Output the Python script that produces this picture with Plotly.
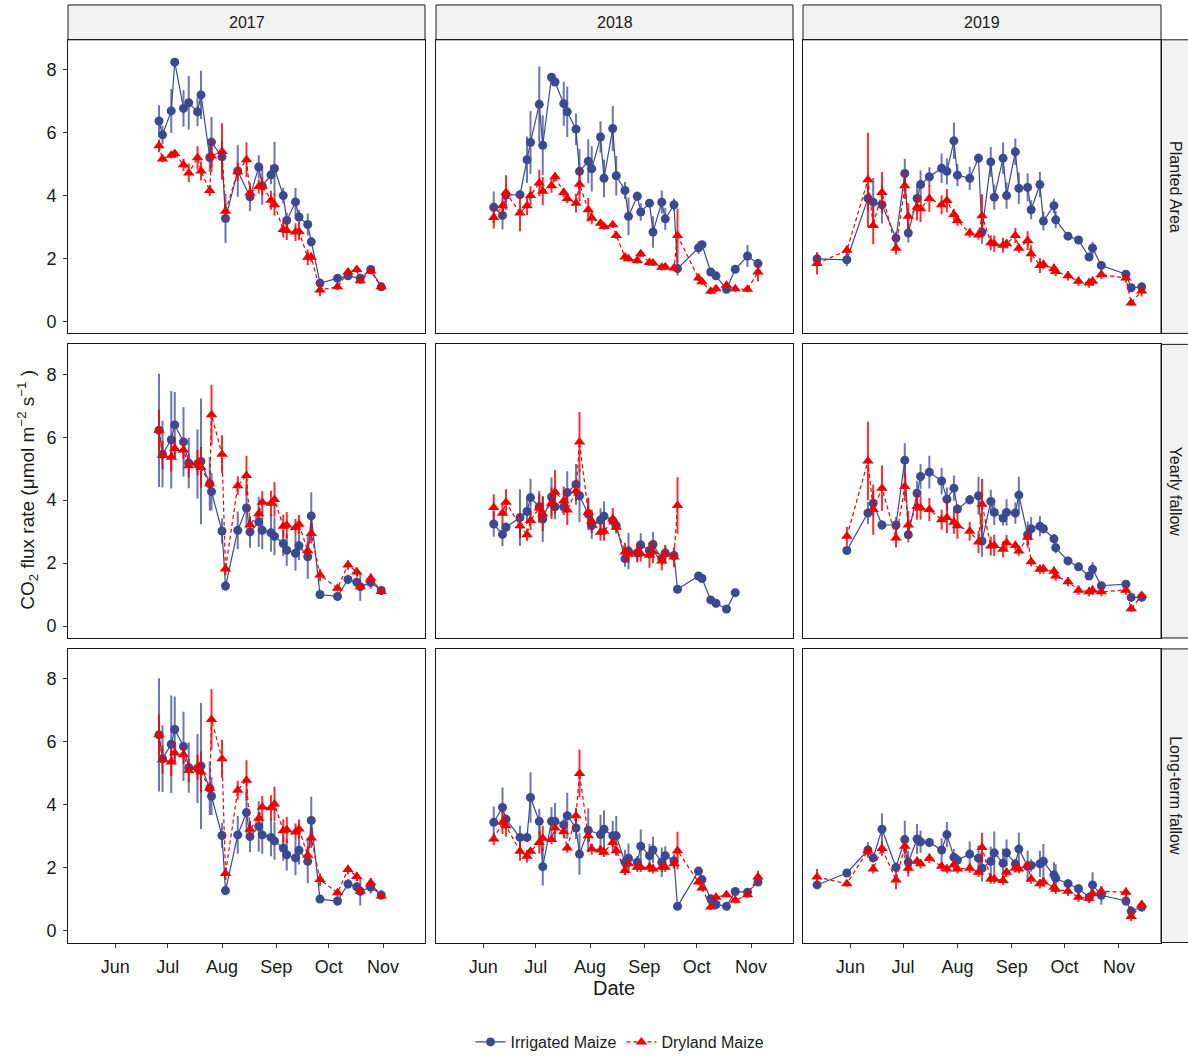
import plotly.graph_objects as go

# ---------------------------------------------------------------------------
# Facet layout: columns are years, rows are land-use types
# ---------------------------------------------------------------------------
YEARS = [2017, 2018, 2019]
LANDUSE = ["Planted Area", "Yearly fallow", "Long-term fallow"]
MONTH_LABELS = ["Jun", "Jul", "Aug", "Sep", "Oct", "Nov"]
MONTH_DAYS = ["06-01", "07-01", "08-01", "09-01", "10-01", "11-01"]
Y_TICKS = [0, 2, 4, 6, 8]
SERIES = ["Irrigated Maize", "Dryland Maize"]

# Measurement dates (month-day) for each season
dates_2017 = ["06-26", "06-28", "07-03", "07-05", "07-10", "07-13", "07-18", "07-20",
              "07-25", "07-26", "08-01", "08-03", "08-10", "08-15", "08-17", "08-22",
              "08-24", "08-29", "08-31", "09-05", "09-07", "09-12", "09-14", "09-19",
              "09-21", "09-26", "10-06", "10-12", "10-17", "10-19", "10-25", "10-31"]
dates_2018 = ["06-07", "06-12", "06-14", "06-22", "06-26", "06-28", "07-03", "07-05",
              "07-10", "07-12", "07-17", "07-19", "07-24", "07-26", "07-31", "08-02",
              "08-07", "08-09", "08-14", "08-16", "08-21", "08-23", "08-28", "08-30",
              "09-04", "09-06", "09-11", "09-13", "09-18", "09-20", "10-02", "10-04",
              "10-09", "10-12", "10-18", "10-23", "10-30", "11-05"]
dates_2019 = ["05-13", "05-30", "06-11", "06-14", "06-19", "06-27", "07-02", "07-04",
              "07-09", "07-11", "07-16", "07-23", "07-26", "07-30", "08-01", "08-08",
              "08-13", "08-15", "08-20", "08-22", "08-27", "08-29", "09-03", "09-05",
              "09-10", "09-12", "09-17", "09-19", "09-25", "09-26", "10-03", "10-09",
              "10-15", "10-17", "10-22", "11-05", "11-08", "11-14"]

# ---------------------------- 2017 -----------------------------------------
pa_irr_2017 = [6.37, 5.93, 6.69, 8.24, 6.77, 6.95, 6.66, 7.20, 5.21, 5.70, 5.23, 3.27,
               4.78, None, 3.96, 4.91, 4.31, 4.66, 4.86, 4.00, 3.21, 3.80, 3.32, 3.08,
               2.53, 1.22, 1.37, 1.45, None, 1.37, 1.65, 1.10]
pa_irr_se_2017 = [0.5, 0.3, 0.7, 0.1, 0.58, 0.85, 0.45, 0.77, 0.45, 0.8, 0.5, 0.78,
                  0.82, None, 0.45, 0.37, 0.6, 0.3, 0.85, 0.25, 0.25, 0.44, 0.23, 0.35,
                  0.15, 0.1, 0.1, 0.1, None, 0.1, 0.1, 0.1]
pa_dry_2017 = [5.58, 5.16, 5.28, 5.34, 4.98, 4.72, 5.20, 4.78, 4.16, 5.26, 5.40, 3.50,
               4.76, 5.14, 4.08, 4.29, 4.30, 3.85, 3.71, 2.92, 2.89, 2.84, 2.86, 2.04,
               2.04, 1.00, 1.10, 1.57, 1.65, 1.29, 1.60, 1.10]
pa_dry_se_2017 = [0.2, 0.1, 0.1, 0.1, 0.2, 0.3, 0.37, 0.3, 0.18, 0.5, 0.9, 0.25,
                  0.3, 0.55, 0.25, 0.22, 0.28, 0.3, 0.35, 0.25, 0.3, 0.28, 0.28, 0.25,
                  0.15, 0.2, 0.1, 0.1, 0.1, 0.1, 0.1, 0.1]

yf_irr_2017 = [6.22, 5.46, 5.92, 6.39, 5.85, 5.18, 5.15, 5.23, 4.52, 4.27, 3.02, 1.27,
               3.04, 3.75, 2.99, 3.31, 3.04, 2.96, 2.85, 2.62, 2.41, 2.31, 2.55, 2.20,
               3.50, 1.00, 0.94, 1.48, 1.39, 1.25, 1.38, 1.13]
yf_irr_se_2017 = [1.8, 1.06, 1.55, 1.05, 1.1, 0.8, 1.1, 2.0, 0.85, 0.6, 0.4, 0.15,
                  0.6, 0.65, 0.5, 0.8, 0.6, 0.6, 0.6, 0.4, 0.5, 0.55, 0.45, 0.7,
                  0.75, 0.1, 0.15, 0.15, 0.15, 0.45, 0.2, 0.15]
yf_dry_2017 = [6.22, 5.43, 5.36, 5.64, 5.59, 5.09, 5.19, 5.04, 4.52, 6.71, 5.46, 1.81,
               4.46, 4.78, 3.22, 3.57, 3.93, 3.90, 4.02, 3.17, 3.20, 3.13, 3.23, 2.39,
               2.94, 1.62, 1.20, 1.94, 1.72, 1.25, 1.52, 1.10]
yf_dry_se_2017 = [0.65, 0.45, 0.45, 0.35, 0.3, 0.37, 0.4, 0.65, 0.2, 0.96, 0.6, 0.2,
                  0.3, 0.63, 0.25, 0.2, 0.35, 0.4, 0.55, 0.37, 0.42, 0.27, 0.3, 0.27,
                  0.32, 0.2, 0.1, 0.15, 0.15, 0.1, 0.15, 0.1]

# In 2017 both fallow types share the same record
lt_irr_2017 = yf_irr_2017
lt_irr_se_2017 = yf_irr_se_2017
lt_dry_2017 = yf_dry_2017
lt_dry_se_2017 = yf_dry_se_2017

# ---------------------------- 2018 -----------------------------------------
pa_irr_2018 = [3.63, 3.37, 4.02, 4.03, 5.14, 5.69, 6.90, 5.60, 7.76, 7.61, 6.92, 6.66,
               6.11, 4.77, 5.09, 4.85, 5.86, 4.55, 6.13, 4.63, 4.16, 3.34, 3.98, 3.48,
               3.76, 2.84, 3.79, 3.26, 3.71, 1.68, 2.34, 2.44, 1.57, 1.45, 1.02, 1.66,
               2.08, 1.84]
pa_irr_se_2018 = [0.5, 0.45, 0.15, 0.15, 0.74, 1.0, 1.2, 0.95, 0.1, 0.1, 0.7, 0.8,
                  0.5, 0.72, 0.7, 0.72, 0.5, 0.6, 0.72, 0.63, 0.27, 0.6, 0.15, 0.28,
                  0.12, 0.5, 0.37, 0.35, 0.2, 0.22, 0.2, 0.1, 0.1, 0.1, 0.1, 0.1,
                  0.35, 0.15]
pa_dry_2018 = [3.30, 3.68, 4.10, 3.45, 3.68, 4.00, 4.40, 4.14, 4.31, 4.60, 4.10, 3.91,
               3.76, 4.36, 3.55, 3.29, 3.12, 3.02, 3.07, 2.73, 2.05, 1.99, 1.94, 2.15,
               1.87, 1.86, 1.72, 1.73, 1.70, 2.73, 1.38, 1.26, 0.96, 1.04, 1.15, 1.04,
               1.02, 1.57]
pa_dry_se_2018 = [0.35, 0.3, 0.55, 0.58, 0.3, 0.3, 0.42, 0.45, 0.22, 0.15, 0.15, 0.15,
                  0.3, 0.55, 0.37, 0.2, 0.1, 0.1, 0.1, 0.1, 0.1, 0.1, 0.1, 0.1,
                  0.1, 0.1, 0.1, 0.1, 0.1, 0.85, 0.1, 0.1, 0.1, 0.1, 0.1, 0.1,
                  0.1, 0.3]

yf_irr_2018 = [3.24, 2.91, 3.14, 3.45, 3.64, 4.08, 3.79, 3.40, 4.10, 3.79, 3.79, 4.24,
               4.50, 4.14, 3.56, 3.19, 3.37, 3.49, 3.35, 3.19, 2.14, 2.38, 2.32, 2.58,
               2.40, 2.59, 2.14, 2.32, 2.24, 1.17, 1.59, 1.51, 0.83, 0.72, 0.54, 1.06,
               None, None]
yf_irr_se_2018 = [0.4, 0.37, 0.15, 0.9, 0.4, 0.6, 0.5, 0.73, 0.62, 0.4, 0.2, 0.68,
                  0.65, 0.84, 0.52, 0.42, 0.37, 0.47, 0.2, 0.2, 0.26, 0.58, 0.3, 0.37,
                  0.26, 0.4, 0.2, 0.2, 0.2, 0.1, 0.1, 0.1, 0.1, 0.1, 0.1, 0.1,
                  None, None]
yf_dry_2018 = [3.77, 3.58, 3.93, 3.19, 2.90, 3.35, 3.75, 3.56, 3.90, 4.26, 3.98, 3.69,
               4.29, 5.85, 3.61, 3.33, 2.98, 3.01, 3.40, 3.14, 2.35, 2.28, 2.35, 2.30,
               2.25, 2.35, 2.07, 2.28, 2.19, 3.83, None, None, None, None, None, None,
               None, None]
yf_dry_se_2018 = [0.42, 0.35, 0.42, 0.4, 0.2, 0.3, 0.45, 0.55, 0.5, 0.7, 0.45, 0.48,
                  0.3, 0.95, 0.45, 0.37, 0.27, 0.3, 0.35, 0.2, 0.3, 0.27, 0.3, 0.25,
                  0.4, 0.35, 0.3, 0.3, 0.32, 0.9, None, None, None, None, None, None,
                  None, None]

lt_irr_2018 = [3.44, 3.91, 3.54, 2.96, 2.96, 4.23, 3.47, 2.03, 3.47, 3.47, 3.36, 3.65,
               3.26, 2.43, 3.19, None, 3.05, 3.22, 3.01, 3.01, 2.17, 2.30, 2.17, 2.68,
               2.38, 2.56, 2.17, 2.38, 2.22, 0.77, 1.89, 1.62, 1.01, 0.83, 0.77, 1.24,
               1.22, 1.54]
lt_irr_se_2018 = [0.5, 0.64, 0.15, 0.37, 0.15, 0.8, 0.4, 0.6, 0.45, 0.58, 0.2, 0.73,
                  0.35, 0.66, 0.7, None, 0.63, 0.6, 0.47, 0.63, 0.4, 0.47, 0.2, 0.53,
                  0.37, 0.42, 0.47, 0.3, 0.23, 0.1, 0.1, 0.1, 0.1, 0.1, 0.1, 0.1,
                  0.1, 0.1]
lt_dry_2018 = [2.91, 3.44, 3.33, 2.52, 2.36, 2.52, 2.80, 2.93, 2.89, 3.26, 3.14, 2.62,
               3.65, 4.99, 3.01, 2.59, 2.56, 2.49, 2.80, 2.54, 1.91, 2.12, 2.01, 2.01,
               2.01, 1.96, 2.01, 2.01, 2.12, 2.54, 1.54, 1.35, 0.75, 1.06, 1.14, 0.96,
               1.14, 1.70]
lt_dry_se_2018 = [0.2, 0.37, 0.35, 0.3, 0.2, 0.1, 0.35, 0.4, 0.15, 0.18, 0.2, 0.15,
                  0.25, 0.76, 0.2, 0.18, 0.15, 0.15, 0.15, 0.15, 0.15, 0.15, 0.15, 0.15,
                  0.15, 0.15, 0.15, 0.15, 0.15, 0.6, 0.1, 0.1, 0.1, 0.1, 0.1, 0.1,
                  0.1, 0.2]

# ---------------------------- 2019 -----------------------------------------
pa_irr_2019 = [1.99, 1.96, 3.91, 3.79, 3.71, 2.65, 4.70, 2.81, 3.91, 4.35, 4.60, 4.87,
               4.77, 5.74, 4.65, 4.55, 5.19, 2.84, 5.07, 3.95, 5.19, 4.00, 5.39, 4.23,
               4.26, 3.55, 4.35, 3.19, 3.68, 3.23, 2.71, 2.59, 2.05, 2.33, 1.78, 1.50,
               1.07, 1.10]
pa_irr_se_2019 = [0.2, 0.2, 0.4, 0.77, 0.6, 0.2, 0.47, 0.3, 0.42, 0.45, 0.3, 0.47,
                  0.42, 0.58, 0.35, 0.37, 0.15, 0.37, 0.47, 0.4, 0.5, 0.42, 0.42, 0.5,
                  0.45, 0.3, 0.4, 0.3, 0.23, 0.27, 0.1, 0.1, 0.1, 0.2, 0.1, 0.1,
                  0.1, 0.1]
pa_dry_2019 = [1.84, 2.26, 4.50, 3.05, 4.10, 2.33, 4.31, 3.34, 3.63, 3.58, 3.91, 3.71,
               3.84, 3.40, 3.21, 2.81, 2.75, 3.36, 2.50, 2.47, 2.42, 2.47, 2.73, 2.33,
               2.57, 2.15, 1.78, 1.81, 1.68, 1.59, 1.45, 1.28, 1.22, 1.28, 1.49, 1.38,
               0.59, 0.97]
pa_dry_se_2019 = [0.35, 0.15, 1.5, 0.6, 0.65, 0.2, 0.42, 0.42, 0.42, 0.42, 0.42, 0.3,
                  0.37, 0.18, 0.18, 0.15, 0.15, 0.68, 0.24, 0.26, 0.24, 0.15, 0.24, 0.15,
                  0.3, 0.27, 0.24, 0.15, 0.15, 0.15, 0.15, 0.15, 0.15, 0.15, 0.15, 0.15,
                  0.1, 0.18]

yf_irr_2019 = [None, 2.40, 3.59, 3.90, 3.21, 3.21, 5.27, 2.90, 4.22, 4.75, 4.89, 4.61,
               4.03, 4.38, 3.72, 4.01, 4.14, 2.70, 3.96, 3.61, 3.43, 3.61, 3.59, 4.16,
               2.90, 3.09, 3.17, 3.09, 2.77, 2.49, 2.07, 1.88, 1.59, 1.80, 1.28, 1.33,
               0.91, 0.91]
yf_irr_se_2019 = [None, 0.1, 0.35, 0.4, 0.15, 0.25, 0.54, 0.25, 0.4, 0.4, 0.52, 0.42,
                  0.37, 0.4, 0.15, 0.15, 0.6, 0.5, 0.37, 0.4, 0.24, 0.42, 0.34, 0.58,
                  0.42, 0.37, 0.32, 0.15, 0.15, 0.18, 0.1, 0.1, 0.1, 0.23, 0.1, 0.1,
                  0.1, 0.1]
yf_dry_2019 = [None, 2.85, 5.24, 3.70, 4.38, 2.80, 4.43, 3.21, 3.80, 3.75, 3.70, 3.38,
               3.45, 3.30, 3.19, 3.01, 2.67, 3.87, 2.54, 2.56, 2.44, 2.65, 2.56, 2.38,
               2.82, 2.04, 1.80, 1.81, 1.74, 1.59, 1.41, 1.14, 1.09, 1.14, 1.09, 1.14,
               0.55, 0.97]
yf_dry_se_2019 = [None, 0.3, 1.25, 0.8, 0.72, 0.3, 0.45, 0.45, 0.42, 0.37, 0.37, 0.32,
                  0.5, 0.37, 0.42, 0.3, 0.35, 0.8, 0.3, 0.34, 0.26, 0.24, 0.15, 0.15,
                  0.26, 0.15, 0.15, 0.15, 0.15, 0.15, 0.15, 0.15, 0.15, 0.15, 0.15, 0.15,
                  0.1, 0.1]

lt_irr_2019 = [1.45, 1.83, 2.56, 2.31, 3.22, 2.01, 2.89, 2.17, 2.91, 2.82, 2.80, 2.56,
               3.05, 2.33, 2.24, 2.43, 2.30, 1.98, 2.20, 2.47, 2.14, 2.47, 2.12, 2.59,
               2.04, 2.07, 2.12, 2.20, 1.77, 1.66, 1.49, 1.33, 1.06, 1.45, 1.12, 0.94,
               0.62, 0.75]
lt_irr_se_2019 = [0.1, 0.1, 0.25, 0.15, 0.5, 0.15, 0.6, 0.35, 0.48, 0.35, 0.15, 0.37,
                  0.4, 0.26, 0.15, 0.4, 0.4, 0.42, 0.47, 0.68, 0.47, 0.42, 0.15, 0.52,
                  0.5, 0.2, 0.42, 0.55, 0.4, 0.45, 0.15, 0.15, 0.15, 0.4, 0.3, 0.15,
                  0.15, 0.15]
lt_dry_2019 = [1.70, 1.49, 2.54, 1.96, 2.61, 1.61, 2.68, 1.98, 2.20, 2.12, 2.30, 2.04,
               1.96, 2.09, 1.96, 1.98, 1.85, 2.64, 1.64, 1.64, 1.59, 1.85, 1.99, 1.96,
               2.07, 1.64, 1.49, 1.54, 1.38, 1.31, 1.25, 1.06, 1.03, 1.17, 1.25, 1.22,
               0.45, 0.82]
lt_dry_se_2019 = [0.26, 0.1, 0.18, 0.15, 0.23, 0.3, 0.23, 0.26, 0.15, 0.15, 0.15, 0.15,
                  0.15, 0.15, 0.15, 0.15, 0.15, 0.47, 0.15, 0.15, 0.15, 0.15, 0.15, 0.15,
                  0.15, 0.15, 0.15, 0.15, 0.15, 0.15, 0.15, 0.15, 0.15, 0.15, 0.15, 0.15,
                  0.15, 0.15]

DATES = {2017: dates_2017, 2018: dates_2018, 2019: dates_2019}
PANELS = {
    ("Planted Area", 2017): (pa_irr_2017, pa_irr_se_2017, pa_dry_2017, pa_dry_se_2017),
    ("Planted Area", 2018): (pa_irr_2018, pa_irr_se_2018, pa_dry_2018, pa_dry_se_2018),
    ("Planted Area", 2019): (pa_irr_2019, pa_irr_se_2019, pa_dry_2019, pa_dry_se_2019),
    ("Yearly fallow", 2017): (yf_irr_2017, yf_irr_se_2017, yf_dry_2017, yf_dry_se_2017),
    ("Yearly fallow", 2018): (yf_irr_2018, yf_irr_se_2018, yf_dry_2018, yf_dry_se_2018),
    ("Yearly fallow", 2019): (yf_irr_2019, yf_irr_se_2019, yf_dry_2019, yf_dry_se_2019),
    ("Long-term fallow", 2017): (lt_irr_2017, lt_irr_se_2017, lt_dry_2017, lt_dry_se_2017),
    ("Long-term fallow", 2018): (lt_irr_2018, lt_irr_se_2018, lt_dry_2018, lt_dry_se_2018),
    ("Long-term fallow", 2019): (lt_irr_2019, lt_irr_se_2019, lt_dry_2019, lt_dry_se_2019),
}

# ---------------------------------------------------------------------------
# Styling
# ---------------------------------------------------------------------------
W, H = 1188, 1059
FONT = "Liberation Sans, Arial, sans-serif"
BLUE = "#3B4992"
RED = "#EE0000"
BLUE_BAR = "rgba(59,73,146,0.75)"
RED_BAR = "rgba(238,0,0,0.8)"
TEXT = "#1a1a1a"
STRIP_FILL = "#F2F2F2"

# panel edges in pixels
COL_PX = [(68, 425), (436, 793), (803, 1161)]
ROW_PX = [(40, 335), (346, 641), (652, 947)]
STRIP_TOP_PX = 5
STRIP_RIGHT_PX = 1161


def px_x(p):
    return p / W


def px_y(p):
    return 1 - p / H


fig = go.Figure()
layout = {}

for r, lu in enumerate(LANDUSE):
    for c, yr in enumerate(YEARS):
        k = r * 3 + c + 1
        sfx = "" if k == 1 else str(k)
        xs = [f"{yr}-{d}" for d in DATES[yr]]
        irr, irr_se, dry, dry_se = PANELS[(lu, yr)]

        fig.add_trace(go.Scatter(
            x=xs, y=irr, mode="lines+markers", name=SERIES[0],
            legendgroup="irr", showlegend=(k == 1), connectgaps=True,
            line=dict(color=BLUE, width=1.2),
            marker=dict(symbol="circle", size=9, color=BLUE),
            error_y=dict(type="data", array=irr_se, visible=True, width=0,
                         thickness=2, color=BLUE_BAR),
            xaxis="x" + sfx, yaxis="y" + sfx,
        ))
        fig.add_trace(go.Scatter(
            x=xs, y=dry, mode="lines+markers", name=SERIES[1],
            legendgroup="dry", showlegend=(k == 1), connectgaps=True,
            line=dict(color=RED, width=1.2, dash="4px,3px"),
            marker=dict(symbol="triangle-up", size=10, color=RED),
            error_y=dict(type="data", array=dry_se, visible=True, width=0,
                         thickness=2, color=RED_BAR),
            xaxis="x" + sfx, yaxis="y" + sfx,
        ))

        x0, x1 = COL_PX[c]
        y0, y1 = ROW_PX[r]
        bottom = r == len(LANDUSE) - 1
        left = c == 0
        layout["xaxis" + sfx] = dict(
            type="date",
            domain=[px_x(x0), px_x(x1)],
            anchor="y" + sfx,
            range=[f"{yr}-05-05", f"{yr}-11-25"],
            tickvals=[f"{yr}-{m}" for m in MONTH_DAYS],
            ticktext=MONTH_LABELS,
            showticklabels=bottom,
            ticks="outside" if bottom else "",
            ticklen=4, tickcolor="#333333",
            ticklabelstandoff=4,
            tickfont=dict(size=18, color=TEXT, family=FONT),
            showgrid=False, zeroline=False,
            showline=True, mirror=True, linecolor="#1a1a1a", linewidth=1,
        )
        layout["yaxis" + sfx] = dict(
            domain=[px_y(y1), px_y(y0)],
            anchor="x" + sfx,
            range=[-0.38, 8.95],
            tickvals=Y_TICKS,
            showticklabels=left,
            ticks="outside" if left else "",
            ticklen=4, tickcolor="#333333",
            ticklabelstandoff=3,
            tickfont=dict(size=18, color=TEXT, family=FONT),
            showgrid=False, zeroline=False,
            showline=True, mirror=True, linecolor="#1a1a1a", linewidth=1,
        )

# Facet strips
shapes = []
annotations = []
for c, yr in enumerate(YEARS):
    x0, x1 = COL_PX[c]
    shapes.append(dict(type="rect", xref="paper", yref="paper",
                       x0=px_x(x0), x1=px_x(x1),
                       y0=px_y(ROW_PX[0][0]), y1=px_y(STRIP_TOP_PX),
                       fillcolor=STRIP_FILL, line=dict(color="#1a1a1a", width=1),
                       layer="below"))
    annotations.append(dict(xref="paper", yref="paper",
                            x=px_x((x0 + x1) / 2),
                            y=px_y((ROW_PX[0][0] + STRIP_TOP_PX) / 2),
                            text=str(yr), showarrow=False,
                            font=dict(size=16, color=TEXT, family=FONT),
                            xanchor="center", yanchor="middle"))
for r, lu in enumerate(LANDUSE):
    y0, y1 = ROW_PX[r]
    shapes.append(dict(type="rect", xref="paper", yref="paper",
                       x0=px_x(STRIP_RIGHT_PX), x1=px_x(W + 5),
                       y0=px_y(y1), y1=px_y(y0),
                       fillcolor=STRIP_FILL, line=dict(color="#1a1a1a", width=1),
                       layer="below"))
    annotations.append(dict(xref="paper", yref="paper",
                            x=px_x((STRIP_RIGHT_PX + W) / 2 + 1),
                            y=px_y((y0 + y1) / 2),
                            text=lu, showarrow=False, textangle=90,
                            font=dict(size=16, color=TEXT, family=FONT),
                            xanchor="center", yanchor="middle"))

# Axis titles
annotations.append(dict(xref="paper", yref="paper", x=px_x(614), y=px_y(993),
                        text="Date", showarrow=False,
                        font=dict(size=20, color=TEXT, family=FONT),
                        xanchor="center", yanchor="middle"))
annotations.append(dict(xref="paper", yref="paper", x=px_x(28), y=px_y(492),
                        text="CO<sub>2</sub> flux rate (μmol m<sup>−2</sup> s<sup>−1</sup> )",
                        showarrow=False, textangle=-90,
                        font=dict(size=19, color=TEXT, family=FONT),
                        xanchor="center", yanchor="middle"))

fig.update_layout(
    width=W, height=H,
    margin=dict(l=0, r=0, t=0, b=0),
    paper_bgcolor="white", plot_bgcolor="white",
    font=dict(family=FONT, color=TEXT),
    showlegend=True,
    legend=dict(orientation="h", x=px_x(620), y=px_y(1047),
                xanchor="center", yanchor="middle",
                font=dict(size=16, color=TEXT, family=FONT),
                bgcolor="rgba(0,0,0,0)", itemwidth=30, tracegroupgap=0),
    shapes=shapes,
    annotations=annotations,
    **layout,
)

fig.write_html("out.html")
